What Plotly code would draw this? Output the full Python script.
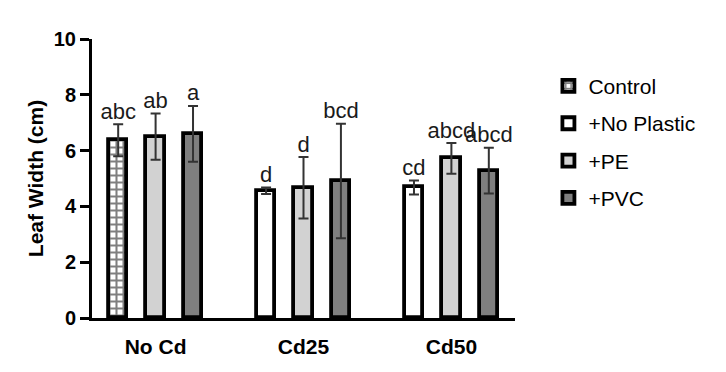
import plotly.graph_objects as go

groups = ["No Cd", "Cd25", "Cd50"]
series_names = ["Control", "+No Plastic", "+PE", "+PVC"]

# group index each series appears in
control_groups = [0]
control_mean = [6.37]
control_sd = [0.57]
control_letters = ["abc"]

noplastic_groups = [1, 2]
noplastic_mean = [4.56, 4.68]
noplastic_sd = [0.12, 0.25]
noplastic_letters = ["d", "cd"]

pe_groups = [0, 1, 2]
pe_mean = [6.50, 4.67, 5.72]
pe_sd = [0.83, 1.10, 0.55]
pe_letters = ["ab", "d", "abcd"]

pvc_groups = [0, 1, 2]
pvc_mean = [6.60, 4.91, 5.28]
pvc_sd = [1.00, 2.05, 0.82]
pvc_letters = ["a", "bcd", "abcd"]

FONT = "Arial, Liberation Sans, sans-serif"
SLOT = 0.253
BAR_W = 0.125

series = [
    ("Control", control_groups, control_mean, control_sd, control_letters, -1,
     dict(color="white", pattern=dict(shape="+", fgcolor="black", bgcolor="white", size=7, solidity=0.5))),
    ("+No Plastic", noplastic_groups, noplastic_mean, noplastic_sd, noplastic_letters, -1,
     dict(color="white")),
    ("+PE", pe_groups, pe_mean, pe_sd, pe_letters, 0, dict(color="#d2d2d2")),
    ("+PVC", pvc_groups, pvc_mean, pvc_sd, pvc_letters, 1, dict(color="#7f7f7f")),
]

fig = go.Figure()
for i, (name, gidx, mean, sd, letters, slot, mk) in enumerate(series):
    xs = [g + slot * SLOT for g in gidx]
    marker = dict(mk)
    marker["line"] = dict(color="black", width=3.8)
    fig.add_trace(go.Bar(
        x=xs, y=mean, width=BAR_W, name=name, marker=marker,
        legendgroup=name,
        error_y=dict(type="data", array=sd, visible=True, color="#333333", thickness=2, width=5),
    ))
    fig.add_trace(go.Scatter(
        x=xs, y=[m + s for m, s in zip(mean, sd)], mode="text", text=letters,
        textposition="top center", textfont=dict(family=FONT, size=22, color="#1a1a1a"),
        showlegend=False, hoverinfo="skip", cliponaxis=False,
    ))

fig.update_layout(
    width=726, height=372,
    margin=dict(l=92, r=211, t=39, b=54),
    paper_bgcolor="white", plot_bgcolor="white",
    font=dict(family=FONT, color="black"),
    bargap=0,
    legend=dict(x=1.079, y=0.904, xanchor="left", yanchor="top",
                font=dict(family=FONT, size=21, color="black"),
                tracegroupgap=7, itemwidth=30),
    showlegend=True,
)
fig.update_xaxes(
    range=[-0.43, 2.43], tickvals=list(range(len(groups))), ticktext=groups,
    showline=True, linecolor="black", linewidth=3,
    ticks="outside", ticklen=8, tickcolor="rgba(0,0,0,0)",
    tickfont=dict(family=FONT, size=21, color="black", weight="bold"),
    showgrid=False, zeroline=False, automargin=False,
)
fig.update_yaxes(
    range=[0, 10], dtick=2, showline=True, linecolor="black", linewidth=3,
    ticks="outside", ticklen=9, tickwidth=2.5, tickcolor="black",
    tickfont=dict(family=FONT, size=20, color="black", weight="bold"),
    title=dict(text="Leaf Width (cm)", font=dict(family=FONT, size=21, color="black", weight="bold"), standoff=5),
    showgrid=False, zeroline=False, automargin=False,
)

fig.write_html(
    "out.html",
    config={"displayModeBar": False},
    post_script="document.body.style.margin='0';document.body.style.overflow='hidden';",
)
